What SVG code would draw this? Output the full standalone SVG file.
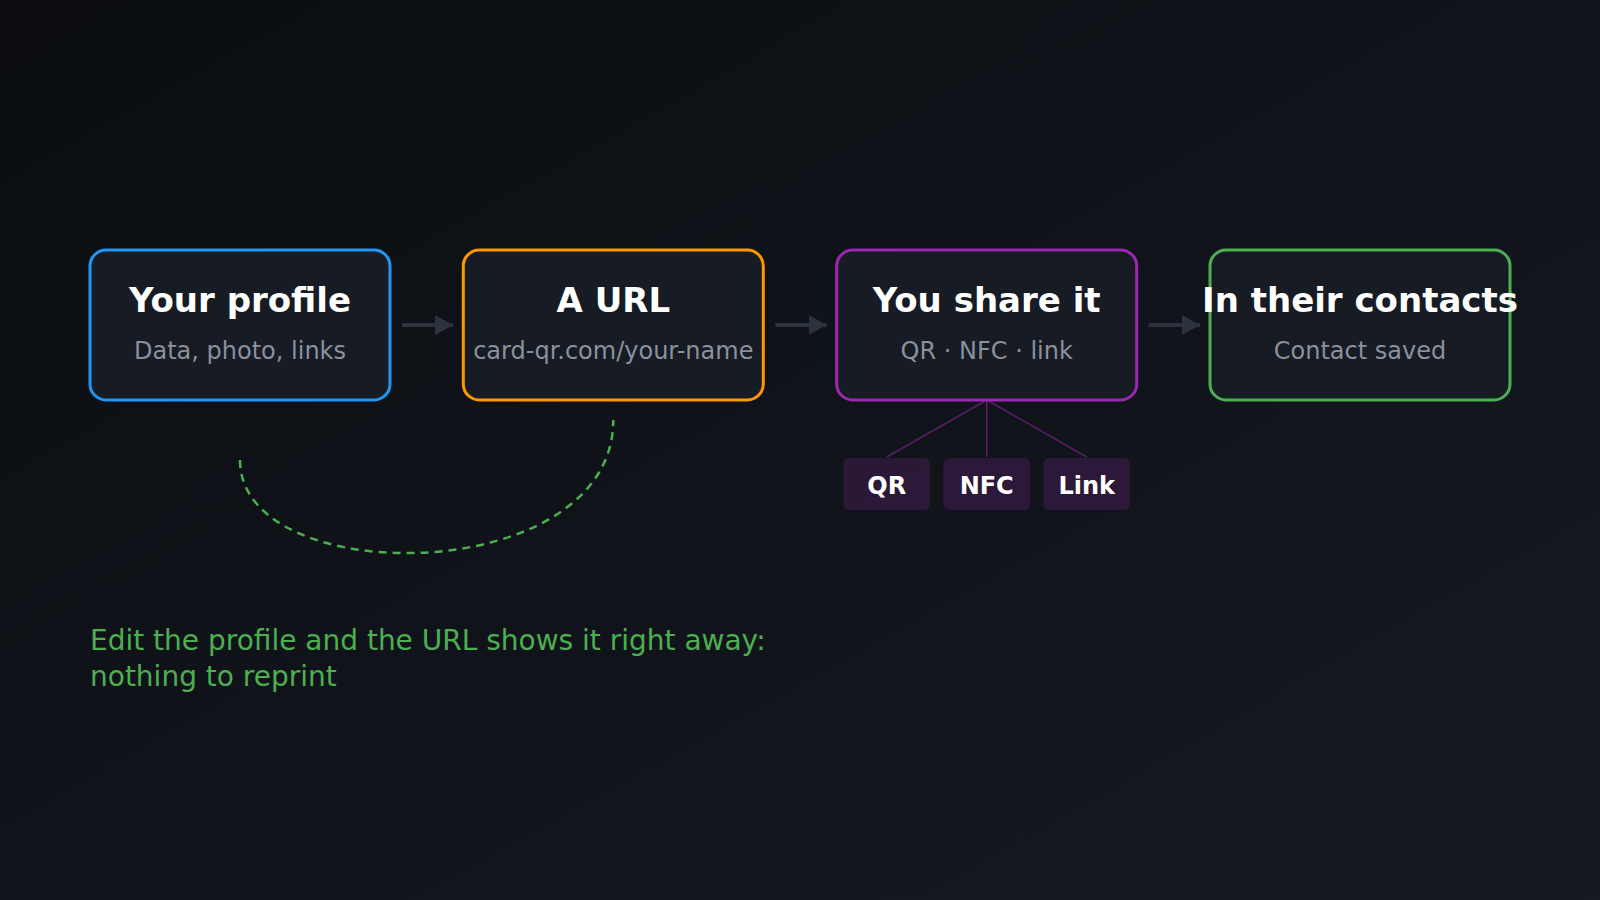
<svg xmlns="http://www.w3.org/2000/svg" width="1600" height="900" viewBox="0 0 1600 900">
  <defs>
    <linearGradient id="bg" x1="0" y1="0" x2="1" y2="1">
      <stop offset="0" stop-color="#0b0d11"/>
      <stop offset="1" stop-color="#151a22"/>
    </linearGradient>
    <marker id="arr" markerWidth="18" markerHeight="20" refX="18" refY="10" orient="auto" markerUnits="userSpaceOnUse">
      <path d="M0,0 L18,10 L0,20 Z" fill="#2c323e"/>
    </marker>
    <style>
      .box { fill: #161b24; stroke-width: 3; }
      .title { font-family: "DejaVu Sans", sans-serif; font-weight: bold; font-size: 34px; fill: #ffffff; text-anchor: middle; }
      .sub { font-family: "DejaVu Sans", sans-serif; font-size: 24px; fill: #8a919d; text-anchor: middle; }
      .arrow { stroke: #2c323e; stroke-width: 4; fill: none; }
      .chip { fill: #9c27b0; fill-opacity: 0.2; }
      .chiptxt { font-family: "DejaVu Sans", sans-serif; font-weight: bold; font-size: 24px; fill: #ffffff; text-anchor: middle; }
      .branch { stroke: #9c27b0; stroke-opacity: 0.5; stroke-width: 1.6; fill: none; }
      .note { font-family: "DejaVu Sans", sans-serif; font-size: 28px; fill: #4caf50; }
    </style>
  </defs>
  <rect width="1600" height="900" fill="url(#bg)"/>

  <g id="connectors">
    <line class="arrow" x1="402" y1="325" x2="453" y2="325" marker-end="url(#arr)"/>
    <line class="arrow" x1="775.3" y1="325" x2="826.7" y2="325" marker-end="url(#arr)"/>
    <line class="arrow" x1="1148.7" y1="325" x2="1200" y2="325" marker-end="url(#arr)"/>
    <line class="branch" x1="986.7" y1="400" x2="886.7" y2="457"/>
    <line class="branch" x1="986.7" y1="400" x2="986.7" y2="457"/>
    <line class="branch" x1="986.7" y1="400" x2="1086.7" y2="457"/>
    <path d="M240,460 C240,592 613.3,588 613.3,420" fill="none" stroke="#4caf50" stroke-width="2.5" stroke-dasharray="8 6"/>
  </g>

  <g id="node-profile">
    <rect class="box" x="90" y="250" width="300" height="150" rx="16" stroke="#2196f3"/>
    <text class="title" x="240" y="312">Your profile</text>
    <text class="sub" x="240" y="359">Data, photo, links</text>
  </g>
  <g id="node-url">
    <rect class="box" x="463.3" y="250" width="300" height="150" rx="16" stroke="#ff9800"/>
    <text class="title" x="613.3" y="312">A URL</text>
    <text class="sub" x="613.3" y="359">card-qr.com/your-name</text>
  </g>
  <g id="node-share">
    <rect class="box" x="836.7" y="250" width="300" height="150" rx="16" stroke="#9c27b0"/>
    <text class="title" x="986.7" y="312">You share it</text>
    <text class="sub" x="986.7" y="359">QR · NFC · link</text>
  </g>
  <g id="node-contacts">
    <rect class="box" x="1210" y="250" width="300" height="150" rx="16" stroke="#4caf50"/>
    <text class="title" x="1360" y="312">In their contacts</text>
    <text class="sub" x="1360" y="359">Contact saved</text>
  </g>

  <g id="chip-qr">
    <rect class="chip" x="843.3" y="458" width="86.7" height="52" rx="6"/>
    <text class="chiptxt" x="886.7" y="494">QR</text>
  </g>
  <g id="chip-nfc">
    <rect class="chip" x="943.3" y="458" width="86.7" height="52" rx="6"/>
    <text class="chiptxt" x="986.7" y="494">NFC</text>
  </g>
  <g id="chip-link">
    <rect class="chip" x="1043.3" y="458" width="86.7" height="52" rx="6"/>
    <text class="chiptxt" x="1086.7" y="494">Link</text>
  </g>

  <g id="note">
    <text class="note" x="90" y="650">Edit the profile and the URL shows it right away:</text>
    <text class="note" x="90" y="686">nothing to reprint</text>
  </g>
</svg>
